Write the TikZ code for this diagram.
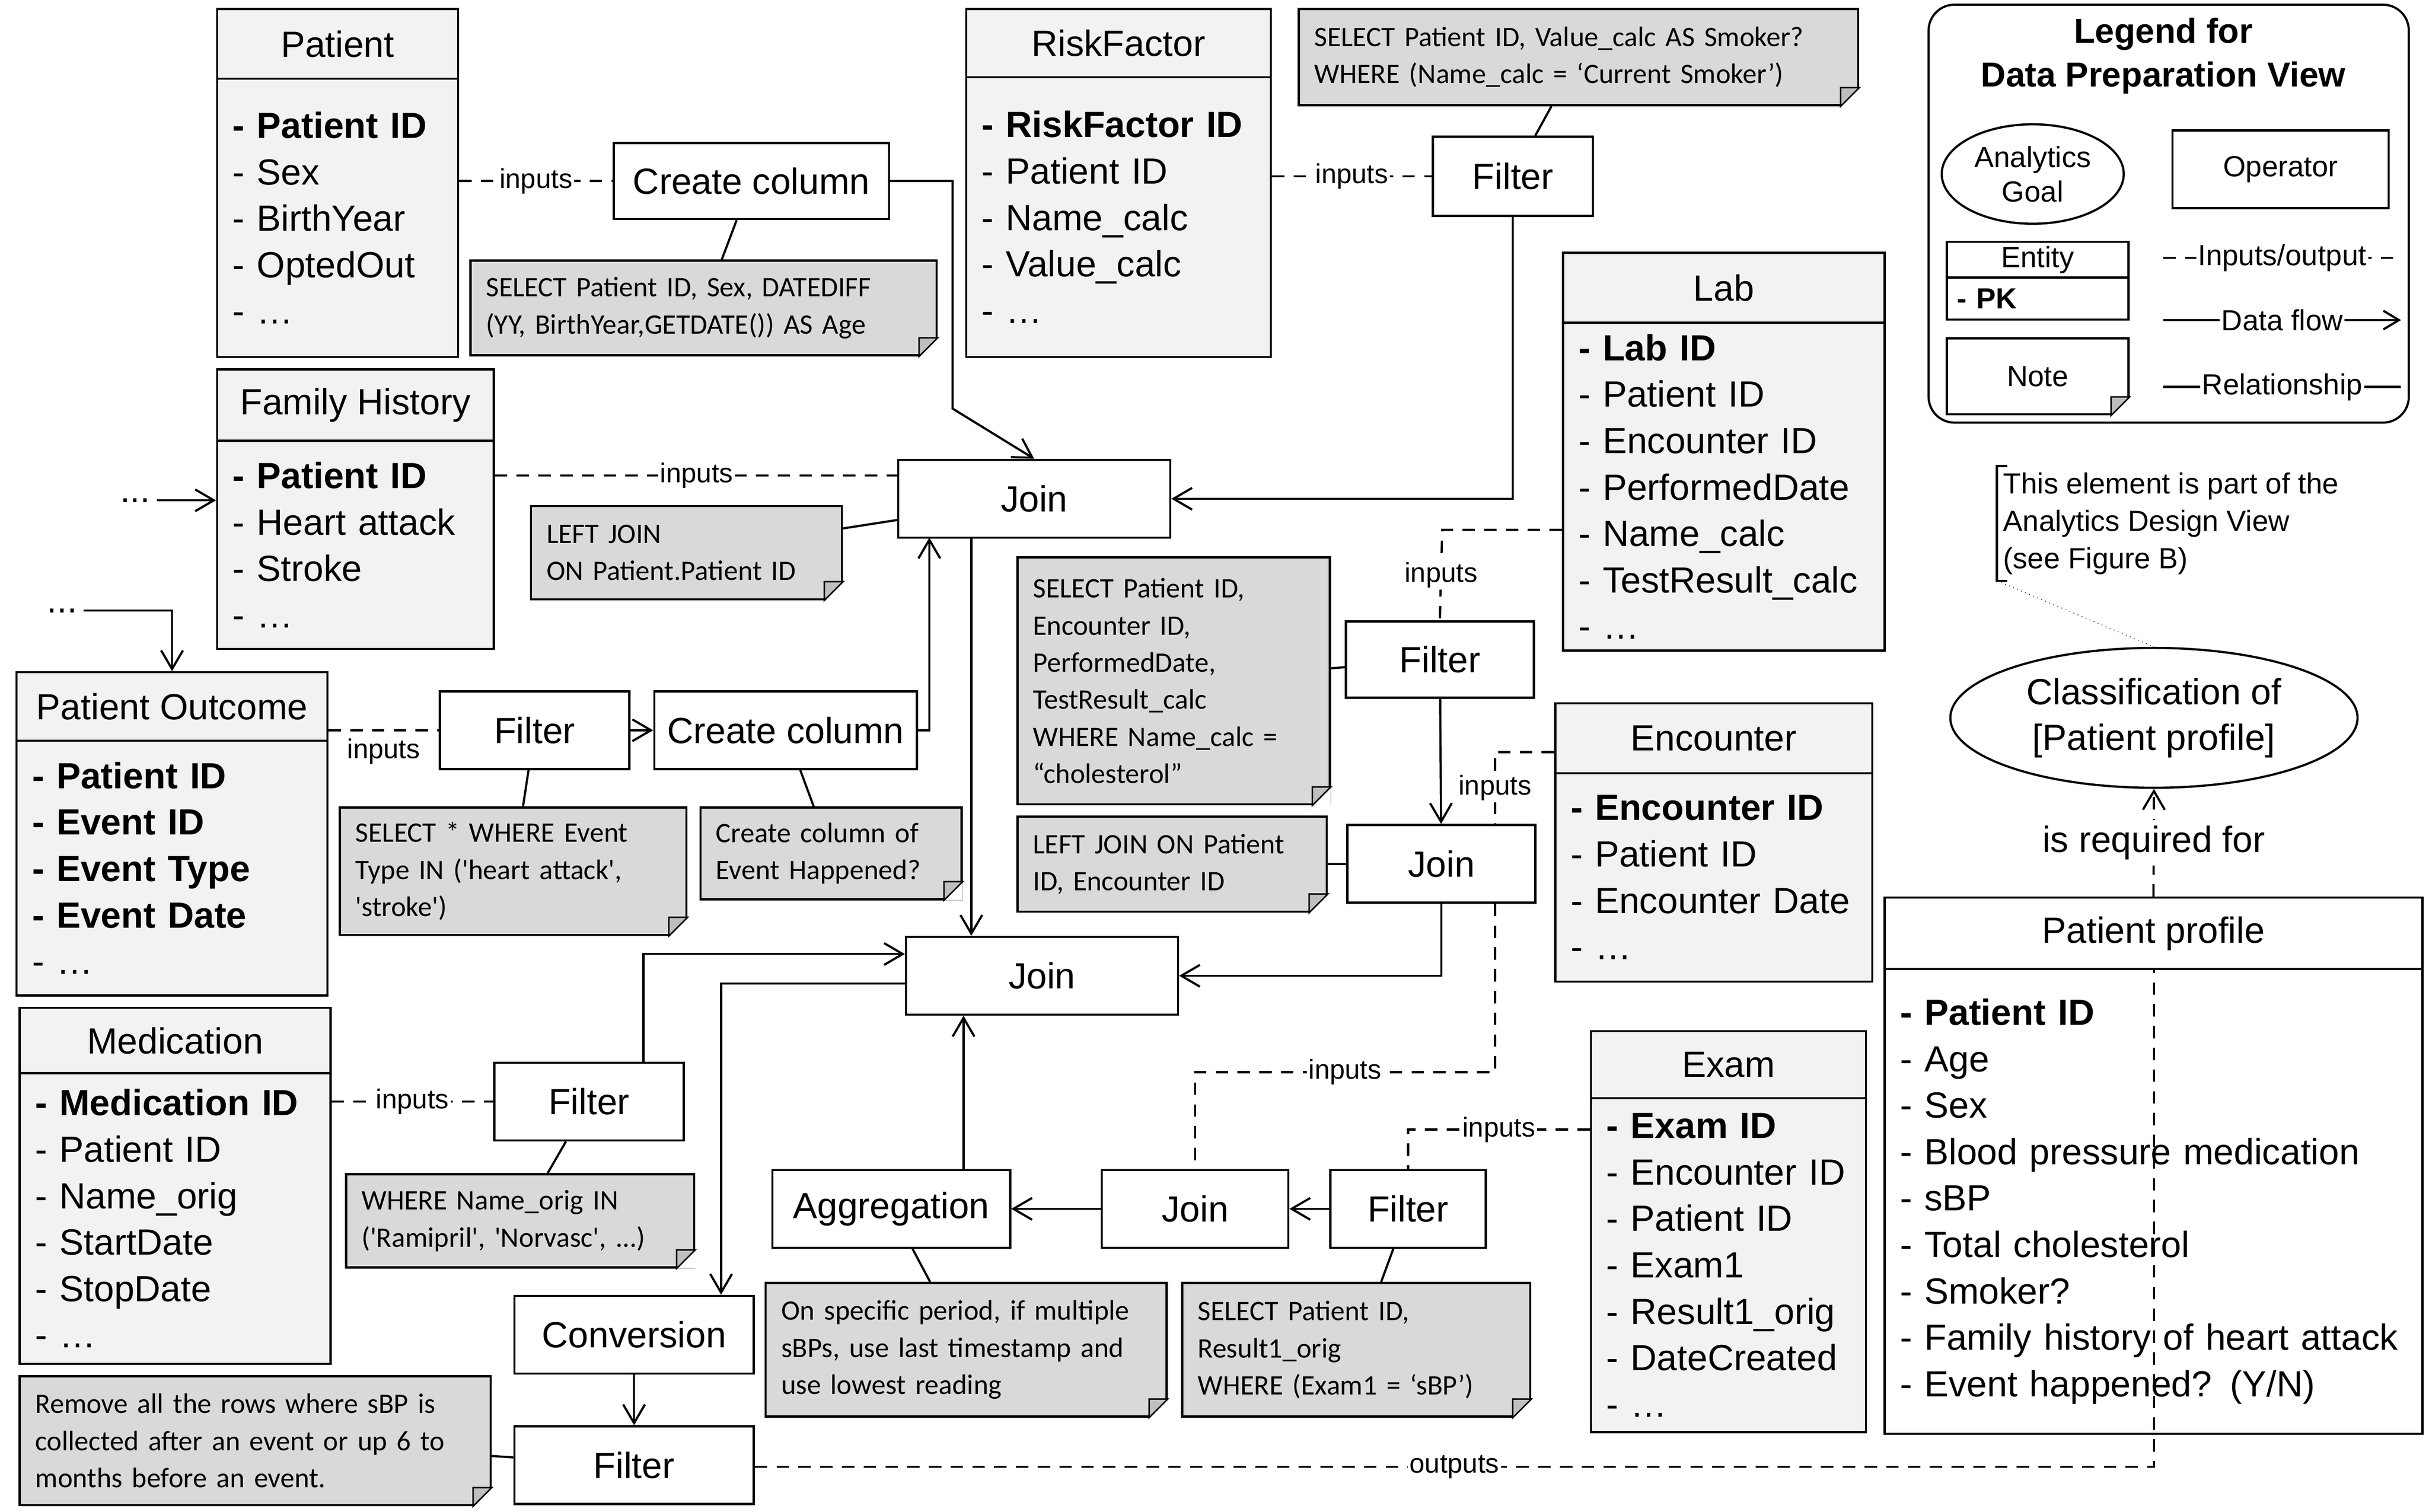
\documentclass[tikz,border=0pt]{standalone}
\usepackage{fontspec}
\setmainfont{Liberation Sans}
\newfontfamily\notefont{Carlito}
\usetikzlibrary{arrows.meta,shapes.geometric}

% entity: name, x1, y1, x2, y of title rule, y2, title, fields
\newcommand\entity[8]{%
  \pgfmathsetmacro\entw{(#4-#2)*0.03}%
  \pgfmathsetmacro\enth{(#5-#3)*0.03}%
  \pgfmathsetmacro\entb{(#6-#5)*0.03}%
  \pgfmathsetmacro\enttw{(#4-#2)*0.03-0.6}%
  \node[ent, anchor=north west, minimum width=\entw cm, minimum height=\enth cm] (#1-t) at (#2,#3) {#7};
  \node[ent, anchor=north west, align=left, text width=\enttw cm, minimum height=\entb cm] (#1) at (#2,#5) {#8};
}
% folded corner of a note
\newcommand\dogear[1]{%
  \fill[white] ([xshift=-0.36cm]#1.south east) -- (#1.south east) -- ([yshift=0.36cm]#1.south east) -- cycle;
  \filldraw[thick, fill=gray!50] ([xshift=-0.36cm]#1.south east) -- ([xshift=-0.36cm,yshift=0.36cm]#1.south east) -- ([yshift=0.36cm]#1.south east) -- cycle;
}

\begin{document}
\begin{tikzpicture}[x=0.03cm, y=-0.03cm,
    ent/.style={draw, line width=1.2pt, fill=gray!10, inner xsep=0.3cm, inner ysep=2pt, font=\fontsize{20}{25.5}\selectfont},
    op/.style={draw, line width=1.2pt, fill=white, font=\fontsize{20}{24}\selectfont},
    note/.style={draw, line width=1.2pt, fill=gray!30, anchor=north west, align=left, inner xsep=0.3cm, font=\notefont\fontsize{15.5}{20.4}\selectfont},
    lbl/.style={fill=white, inner sep=1pt, font=\fontsize{15}{18}\selectfont},
    flow/.style={line width=1.2pt, -{Straight Barb[length=0.36cm, width=0.42cm, line width=1.2pt]}},
    inp/.style={line width=1.2pt, dash pattern=on 0.24cm off 0.18cm},
    link/.style={line width=1.2pt}
]
\useasboundingbox (0,0) rectangle (1563,973);

% entities
\entity{pat}{139}{5}{294}{50}{229}{Patient}{\textbf{- Patient ID}\\- Sex\\- BirthYear\\- OptedOut\\- \dots}
\entity{rf}{621}{5}{817}{49}{229}{RiskFactor}{\textbf{- RiskFactor ID}\\- Patient ID\\- Name\_calc\\- Value\_calc\\- \dots}
\entity{lab}{1005}{162}{1212}{207}{418}{Lab}{\textbf{- Lab ID}\\- Patient ID\\- Encounter ID\\- PerformedDate\\- Name\_calc\\- TestResult\_calc\\- \dots}
\entity{fh}{139}{237}{317}{283}{417}{Family History}{\textbf{- Patient ID}\\- Heart attack\\- Stroke\\- \dots}
\entity{po}{10}{432}{210}{476}{640}{Patient Outcome}{\textbf{- Patient ID}\\\textbf{- Event ID}\\\textbf{- Event Type}\\\textbf{- Event Date}\\- \dots}
\entity{enc}{1000}{452}{1204}{497}{631}{Encounter}{\textbf{- Encounter ID}\\- Patient ID\\- Encounter Date\\- \dots}
\entity{med}{12}{648}{212}{690}{877}{Medication}{\textbf{- Medication ID}\\- Patient ID\\- Name\_orig\\- StartDate\\- StopDate\\- \dots}
\entity{ex}{1023}{663}{1200}{706}{921}{Exam}{\textbf{- Exam ID}\\- Encounter ID\\- Patient ID\\- Exam1\\- Result1\_orig\\- DateCreated\\- \dots}
\tikzset{ent/.append style={fill=white}}
\entity{pp}{1212}{577}{1558}{623}{922}{Patient profile}{\textbf{- Patient ID}\\- Age\\- Sex\\- Blood pressure medication\\- sBP\\- Total cholesterol\\- Smoker?\\- Family history of heart attack\\- Event happened? (Y/N)}

% operators
\node[op, minimum width=5.31cm, minimum height=1.47cm] (cc1) at (483.5,116.5) {Create column};
\node[op, minimum width=3.09cm, minimum height=1.53cm] (frf) at (973.5,113.5) {Filter};
\node[op, minimum width=5.25cm, minimum height=1.5cm] (j1) at (665.5,321) {Join};
\node[op, minimum width=3.63cm, minimum height=1.47cm] (flab) at (926.5,424.5) {Filter};
\node[op, minimum width=3.66cm, minimum height=1.5cm] (fpo) at (344,470) {Filter};
\node[op, minimum width=5.07cm, minimum height=1.5cm] (cc2) at (505.5,470) {Create column};
\node[op, minimum width=3.63cm, minimum height=1.5cm] (jlab) at (927.5,556) {Join};
\node[op, minimum width=5.25cm, minimum height=1.5cm] (j2) at (670.5,628) {Join};
\node[op, minimum width=3.66cm, minimum height=1.5cm] (fmed) at (379,709) {Filter};
\node[op, minimum width=4.59cm, minimum height=1.5cm] (agg) at (573.5,778) {Aggregation};
\node[op, minimum width=3.6cm, minimum height=1.5cm] (jex) at (769,778) {Join};
\node[op, minimum width=3cm, minimum height=1.5cm] (fex) at (906,778) {Filter};
\node[op, minimum width=4.62cm, minimum height=1.5cm] (conv) at (408,859) {Conversion};
\node[op, minimum width=4.62cm, minimum height=1.5cm] (fout) at (408,943) {Filter};

% notes
\node[note, text width=8.4cm, minimum height=1.83cm] (n1) at (302,167) {SELECT Patient ID, Sex, DATEDIFF\\(YY, BirthYear,GETDATE()) AS Age};
\node[note, text width=10.2cm, minimum height=1.86cm] (n2) at (835,5) {SELECT Patient ID, Value\_calc AS Smoker?\\WHERE (Name\_calc = ‘Current Smoker’)};
\node[note, text width=5.4cm, minimum height=1.8cm] (n3) at (341,325) {LEFT JOIN\\ON Patient.Patient ID};
\node[note, text width=5.43cm, minimum height=4.77cm] (n4) at (654,358) {SELECT Patient ID,\\Encounter ID,\\PerformedDate,\\TestResult\_calc\\WHERE Name\_calc =\\“cholesterol”};
\node[note, text width=5.37cm, minimum height=1.83cm] (n5) at (654,525) {LEFT JOIN ON Patient\\ID, Encounter ID};
\node[note, text width=6.09cm, minimum height=2.46cm] (n6) at (218,519) {SELECT * WHERE Event\\Type IN ('heart attack',\\'stroke')};
\node[note, text width=4.44cm, minimum height=1.77cm] (n7) at (450,519) {Create column of\\Event Happened?};
\node[note, text width=6.12cm, minimum height=1.8cm] (n8) at (222,755) {WHERE Name\_orig IN\\('Ramipril', 'Norvasc', ...)};
\node[note, text width=7.14cm, minimum height=2.58cm] (n9) at (492,825) {On specific period, if multiple\\sBPs, use last timestamp and\\use lowest reading};
\node[note, text width=6.12cm, minimum height=2.58cm] (n10) at (760,825) {SELECT Patient ID,\\Result1\_orig\\WHERE (Exam1 = ‘sBP’)};
\node[note, text width=8.49cm, minimum height=2.49cm] (n11) at (12,885) {Remove all the rows where sBP is\\collected after an event or up 6 to\\months before an event.};
\foreach \n in {n1,n2,n3,n4,n5,n6,n7,n8,n9,n10,n11} {\dogear{\n}}

% goal and design view remark
\node[draw, ellipse, line width=1.2pt, minimum width=7.86cm, minimum height=2.7cm, align=center, font=\fontsize{20}{25}\selectfont] (goal) at (1386,462) {Classification of\\{[Patient profile]}};
\node[anchor=north west, align=left, font=\fontsize{16}{20.5}\selectfont] (design) at (1285,300) {This element is part of the\\Analytics Design View\\(see Figure B)};
\draw[link] ([xshift=0.2cm]design.north west) -- (design.north west) -- (design.south west) -- ([xshift=0.2cm]design.south west);
\draw[thin, dotted] (design.south west) -- (goal.north);

% connectors
\coordinate (k1) at (613,263);
\coordinate (k2) at (598,346);
\coordinate (k3) at (625,346);
\coordinate (k4) at (928,341);
\coordinate (k5) at (962,484);
\coordinate (k6) at (962,690);
\coordinate (k7) at (910,727);
\coordinate (k8) at (620,753);
\coordinate (k9) at (414,614);
\coordinate (k10) at (464,633);
\coordinate (k11) at (1386,944);
\coordinate (k12) at (578,306);
\draw[inp] (pat.east |- cc1) -- node[lbl]{inputs} (cc1.west);
\draw[flow] (cc1.east) -| (k1) -- (j1.north);
\draw[link] (cc1) -- (n1);
\draw[inp] (rf.east |- frf) -- node[lbl]{inputs} (frf.west);
\draw[link] (n2) -- (frf);
\draw[flow] (frf.south) |- (j1.east);
\draw[inp] (fh.east |- k12) -- node[lbl]{inputs} (k12);
\draw[link] (j1) -- (n3);
\node[font=\fontsize{20}{24}\selectfont] (dots1) at (87,322) {...};
\draw[flow] (dots1) -- (fh.west |- dots1);
\node[font=\fontsize{20}{24}\selectfont] (dots2) at (40,393) {...};
\draw[flow] (dots2.east) -| (po-t.north);
\draw[inp] (po.east |- fpo) -- node[lbl, below=3pt]{inputs} (fpo.west);
\draw[flow] (fpo) -- (cc2);
\draw[flow] (cc2.east) -| (k2);
\draw[link] (fpo) -- (n6);
\draw[link] (cc2) -- (n7);
\draw[flow] (k3) -- (k3 |- j2.north);
\draw[inp] (k4 -| lab.west) -- (k4) -- node[lbl]{inputs} (flab.north);
\draw[link] (n4) -- (flab);
\draw[flow] (flab) -- (jlab);
\draw[inp] (k5 -| enc.west) -- (k5) -- node[lbl]{inputs} (k5 |- jlab.north);
\draw[link] (n5) -- (jlab);
\draw[flow] (jlab.south) |- (j2.east);
\draw[inp] (k6 |- jlab.south) -- (k6) -- node[lbl]{inputs} (k6 -| jex.north) -- (jex.north);
\draw[inp] (ex.west |- k7) -- node[lbl]{inputs} (k7 -| fex.north) -- (fex.north);
\draw[flow] (fex) -- (jex);
\draw[flow] (jex) -- (agg);
\draw[flow] (k8) -- (k8 |- j2.south);
\draw[link] (agg) -- (n9);
\draw[link] (fex) -- (n10);
\draw[inp] (med.east |- fmed) -- node[lbl]{inputs} (fmed.west);
\draw[flow] (k9 |- fmed.north) -- (k9) -- (k9 -| j2.west);
\draw[link] (fmed) -- (n8);
\draw[flow] (k10 -| j2.west) -- (k10) -- (k10 |- conv.north);
\draw[flow] (conv) -- (fout);
\draw[link] (n11) -- (fout);
\draw[inp] (fout.east |- k11) -- node[lbl]{outputs} (k11) -- (k11 |- pp-t.south);
\draw[inp, -{Straight Barb[length=0.36cm, width=0.42cm, line width=1.2pt]}] (pp-t.north) -- node[fill=white, font=\fontsize{20}{24}\selectfont]{is required for} (goal.south);

% legend
\node[draw, line width=1.2pt, rounded corners=0.5cm, minimum width=9.27cm, minimum height=8.07cm] (legend) at (1395.5,137.5) {};
\node[font=\bfseries\fontsize{19}{24}\selectfont, align=center] (lgtitle) at (1392,36) {Legend for\\Data Preparation View};
\node[draw, ellipse, line width=1.2pt, minimum width=3.42cm, minimum height=1.92cm, align=center, font=\fontsize{16}{19}\selectfont] (lggoal) at (1308,112) {Analytics\\Goal};
\node[op, minimum width=4.17cm, minimum height=1.5cm, font=\fontsize{16}{19}\selectfont] (lgop) at (1467.5,109) {Operator};
\node[ent, anchor=north west, minimum width=3.51cm, minimum height=0.69cm, inner ysep=0pt, font=\fontsize{16}{19}\selectfont] (lgent-t) at (1252,155) {Entity};
\node[ent, anchor=north west, minimum width=3.51cm, minimum height=0.81cm, inner ysep=0pt, inner xsep=0.2cm, align=left, text width=3.11cm, font=\fontsize{16}{19}\selectfont] (lgent) at (1252,178) {\textbf{- PK}};
\node[note, fill=white, text width=2.91cm, minimum height=1.47cm, align=center, font=\fontsize{16}{19}\selectfont] (lgnote) at (1252,217) {Note};
\dogear{lgnote}
\coordinate (l1) at (1392,166);
\coordinate (l2) at (1545,166);
\coordinate (l3) at (1392,206);
\coordinate (l4) at (1545,206);
\coordinate (l5) at (1392,249);
\coordinate (l6) at (1545,249);
\draw[inp] (l1) -- node[lbl, font=\fontsize{16}{19}\selectfont]{Inputs/output} (l2);
\draw[flow, -{Straight Barb[length=0.3cm, width=0.36cm, line width=1.2pt]}] (l3) -- node[lbl, font=\fontsize{16}{19}\selectfont]{Data flow} (l4);
\draw[link] (l5) -- node[lbl, font=\fontsize{16}{19}\selectfont]{Relationship} (l6);
\end{tikzpicture}
\end{document}
